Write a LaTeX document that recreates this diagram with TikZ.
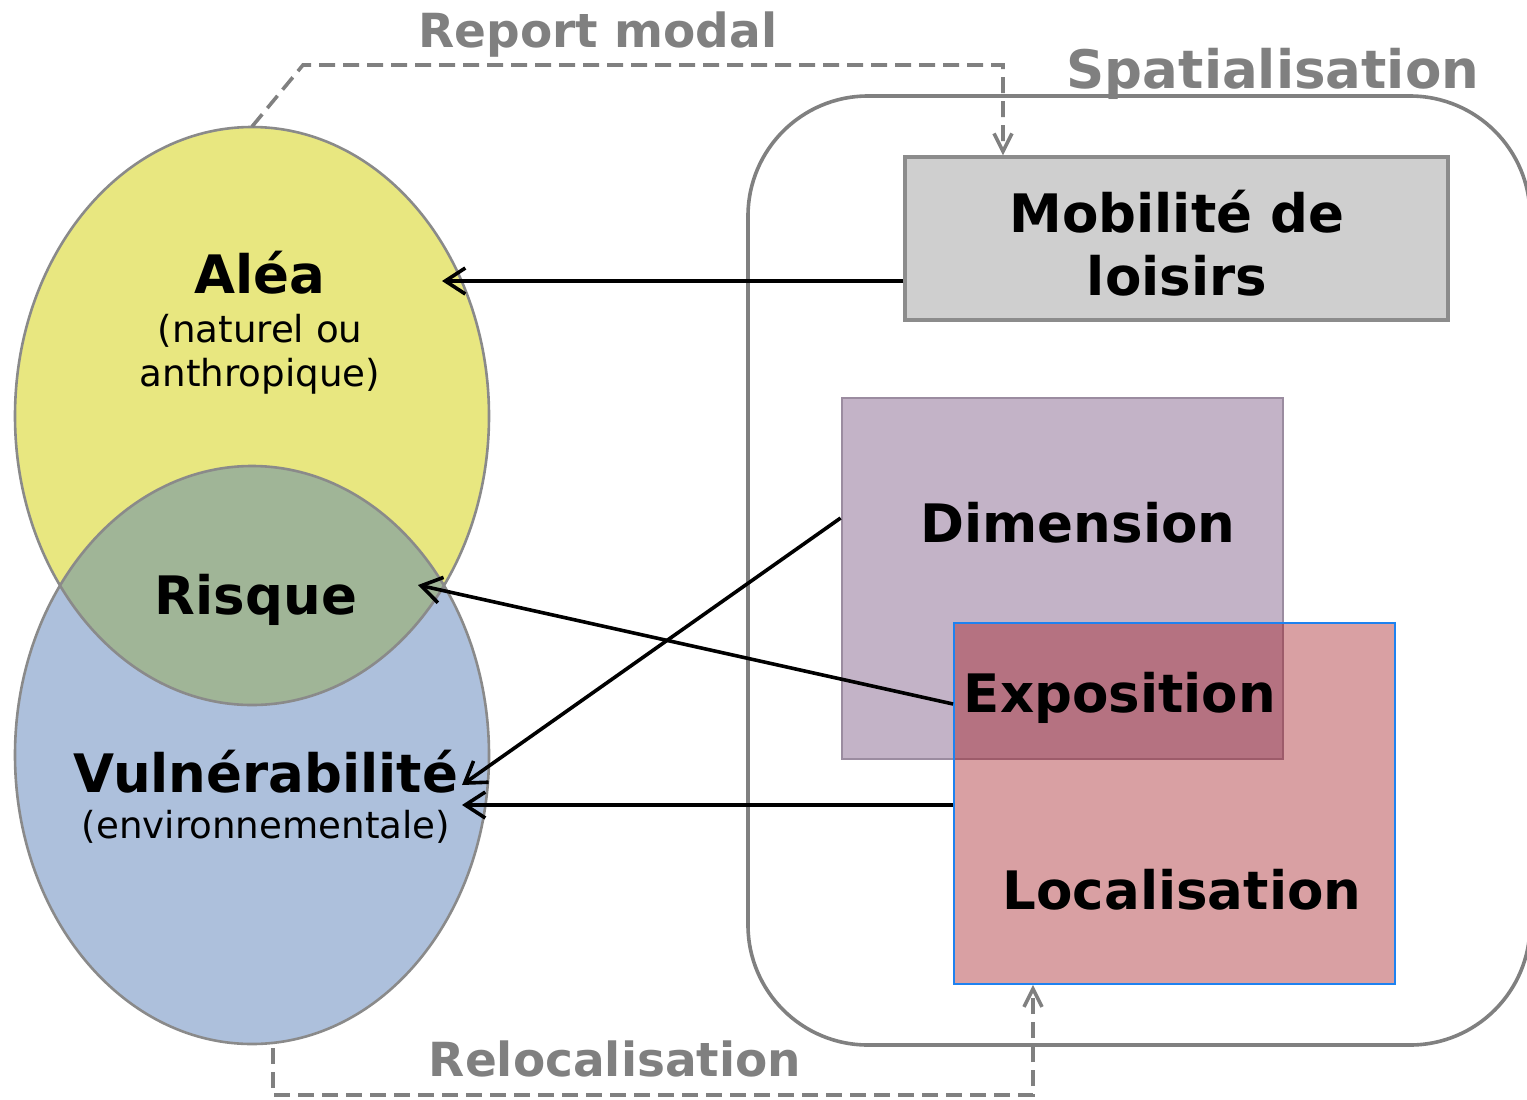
\documentclass[tikz,border=0pt]{standalone}
\usepackage{fontspec}
\setmainfont{DejaVu Sans}
\usetikzlibrary{arrows.meta,shapes.geometric}
\definecolor{yel}{RGB}{232,231,128}
\definecolor{blu}{RGB}{173,192,220}
\definecolor{grn}{RGB}{160,181,151}
\definecolor{ellgray}{RGB}{138,138,138}
\definecolor{rgray}{RGB}{128,128,128}
\definecolor{boxgray}{RGB}{207,207,207}
\definecolor{boxline}{RGB}{140,140,140}
\definecolor{purp}{RGB}{195,179,199}
\definecolor{purpline}{RGB}{155,140,160}
\definecolor{pinkbase}{RGB}{160,18,25}
\definecolor{bluline}{RGB}{30,130,240}
\definecolor{txtgray}{RGB}{128,128,128}
\begin{document}
\begin{tikzpicture}[x=0.5pt,y=-0.5pt,
  boldlbl/.style={font=\fontsize{26.5}{31}\selectfont\bfseries, anchor=base, inner sep=0pt},
  reglbl/.style={font=\fontsize{18.6}{22}\selectfont, anchor=base, inner sep=0pt},
  graylbl/.style={font=\fontsize{23.5}{28}\selectfont\bfseries, text=txtgray, anchor=base, inner sep=0pt},
  ell/.style={ellipse, minimum width=237pt, minimum height=289pt, inner sep=0pt},
  ellline/.style={draw=ellgray, line width=1.3pt},
  arr/.style={draw=black, line width=1.8pt, -{Straight Barb[length=10pt,width=13pt]}},
  dasharr/.style={draw=rgray, line width=1.8pt, dash pattern=on 8pt off 4pt, -{Straight Barb[length=9pt,width=9pt]}},
]
\useasboundingbox (0,0) rectangle (1527,1099);

% ellipses
\node[ell, fill=yel] (alea) at (252,416) {};
\node[ell, fill=blu] (vul) at (252,755) {};
\begin{scope}
  \clip (252,416) ellipse [x radius=237, y radius=289];
  \fill[grn] (252,755) ellipse [x radius=237, y radius=289];
\end{scope}
\draw[ellline] (252,416) ellipse [x radius=237, y radius=289];
\draw[ellline] (252,755) ellipse [x radius=237, y radius=289];

% spatialisation frame
\node[draw=rgray, line width=1.8pt, rounded corners=60pt, minimum width=391pt, minimum height=474.5pt, inner sep=0pt] (spat) at (1139,570.5) {};

% boxes
\node[draw=boxline, fill=boxgray, line width=1.6pt, minimum width=271.5pt, minimum height=81.5pt, inner sep=0pt] (mob) at (1176.5,238.5) {};
\node[draw=purpline, fill=purp, line width=1.4pt, minimum width=220.5pt, minimum height=180.5pt, inner sep=0pt] (dim) at (1062.5,578.5) {};
\node[draw=bluline, fill=pinkbase, fill opacity=0.4, draw opacity=1, line width=0.9pt, minimum width=220.5pt, minimum height=180.5pt, inner sep=0pt] (loc) at (1174.5,803.5) {};

% texts
\node[boldlbl] (talea) at (260,293) {Aléa};
\node[reglbl] (tnat) at (260,342) {(naturel ou};
\node[reglbl] (tanth) at (260,386) {anthropique)};
\node[boldlbl] (trisque) at (256,614) {Risque};
\node[boldlbl] (tvul) at (266,792) {Vulnérabilité};
\node[reglbl] (tenv) at (266,838) {(environnementale)};
\node[boldlbl] (tmob1) at (1177,232) {Mobilité de};
\node[boldlbl] (tmob2) at (1177,295) {loisirs};
\node[boldlbl] (tdim) at (1078,542) {Dimension};
\node[boldlbl] (texpo) at (1120,712) {Exposition};
\node[boldlbl] (tloc) at (1182,909) {Localisation};
\node[boldlbl, text=txtgray] (tspat) at (1273,88) {Spatialisation};
\node[graylbl] (treport) at (598,47) {Report modal};
\node[graylbl] (treloc) at (615,1076) {Relocalisation};

% arrow end points
\coordinate (aleaIn) at (442,281);
\coordinate (risqIn) at (418,585);
\coordinate (vulIn1) at (462,785);
\coordinate (vulIn2) at (462,805);
\coordinate (dimOut) at (842,518);
\coordinate (expoOut) at (954,704);

\draw[arr] (mob.west |- aleaIn) -- (aleaIn);
\draw[arr] (loc.west |- expoOut) -- (risqIn);
\draw[arr] (dim.west |- dimOut) -- (vulIn1);
\draw[arr] (loc.west |- vulIn2) -- (vulIn2);

% dashed connectors
\coordinate (rmA) at (303,65);
\coordinate (rmB) at (1003,65);
\draw[dasharr] (alea.north) -- (rmA) -- (rmB) -- (rmB |- mob.north);
\coordinate (rlA) at (273,1095);
\coordinate (rlB) at (1033,1095);
\coordinate (rlS) at (273,1048);
\draw[dasharr] (rlS) -- (rlA) -- (rlB) -- (rlB |- loc.south);
\end{tikzpicture}
\end{document}
